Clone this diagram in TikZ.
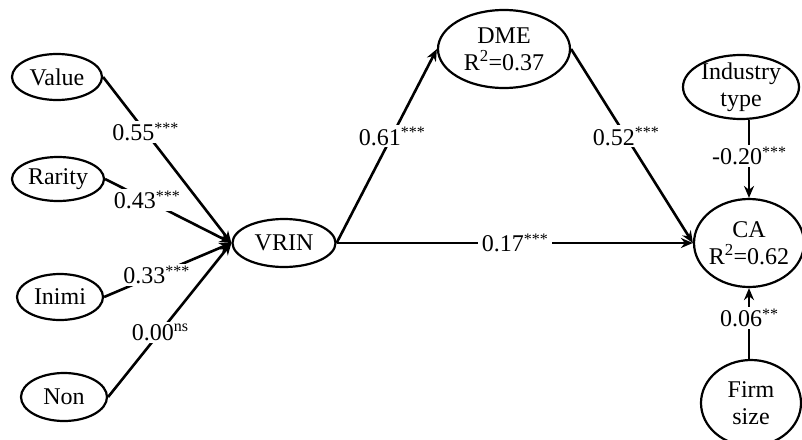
\documentclass[tikz,border=0pt]{standalone}
\usepackage{fontspec}
\setmainfont{Liberation Serif}
\usetikzlibrary{shapes.geometric,arrows.meta}
\newcommand{\sg}[1]{\raisebox{7.5pt}{\fontsize{16}{16}\selectfont #1}}
\newcommand{\sgl}[1]{\raisebox{9.5pt}{\fontsize{16}{16}\selectfont #1}}
\begin{document}
\begin{tikzpicture}[x=1pt,y=-1pt,
  lv/.style={draw, ellipse, line width=2.2pt, inner sep=0pt, align=center,
    font=\fontsize{24}{27}\selectfont},
  conn/.style={line width=2.6pt, -{Stealth[length=12pt,width=10pt]}},
  lab/.style={fill=white, inner sep=2pt, font=\fontsize{24}{27}\selectfont}
]
\useasboundingbox (0,0) rectangle (802,439);

\node[lv, minimum width=90pt, minimum height=46pt] (value) at (57,77) {Value};
\node[lv, minimum width=92pt, minimum height=44pt] (rarity) at (58,179) {Rarity};
\node[lv, minimum width=86pt, minimum height=46pt] (inimi) at (60,297) {Inimi};
\node[lv, minimum width=86pt, minimum height=48pt] (non) at (64,397) {Non};
\node[lv, minimum width=103pt, minimum height=48pt] (vrin) at (284,243) {VRIN};
\node[lv, minimum width=132pt, minimum height=78pt] (dme) at (504,49) {DME\\R\textsuperscript{2}=0.37};
\node[lv, minimum width=110pt, minimum height=88pt, inner sep=-3pt] (ca) at (749,243) {CA\\R\textsuperscript{2}=0.62};
\node[lv, minimum width=116pt, minimum height=64pt, inner sep=-4pt] (ind) at (741,87) {Industry\\type};
\node[lv, minimum width=100pt, minimum height=86pt] (firm) at (751,403) {Firm\\size};

\draw[conn] (value.east) -- node[lab, pos=0.33] {0.55\sg{***}} (vrin.west);
\draw[conn] (rarity.east) -- node[lab, pos=0.33] {0.43\sg{***}} (vrin.west);
\draw[conn] (inimi.east) -- node[lab, pos=0.41] {0.33\sg{***}} (vrin.west);
\draw[conn] (non.east) -- node[lab, pos=0.42] {0.00\sgl{ns}} (vrin.west);

\draw[conn] (vrin.east) -- node[lab, pos=0.55] {0.61\sg{***}} (dme.west);
\draw[conn] (dme.east) -- node[lab, pos=0.45] {0.52\sg{***}} (ca.west);
\draw[conn] (vrin.east) -- node[lab, pos=0.5, inner sep=4pt] {0.17\sg{***}} (ca.west);

\draw[conn] (ca.north |- ind.south) -- node[lab, pos=0.46] {-0.20\sg{***}} (ca.north);
\draw[conn] (ca.south |- firm.north) -- node[lab, pos=0.58] {0.06\sg{**}} (ca.south);
\end{tikzpicture}
\end{document}
